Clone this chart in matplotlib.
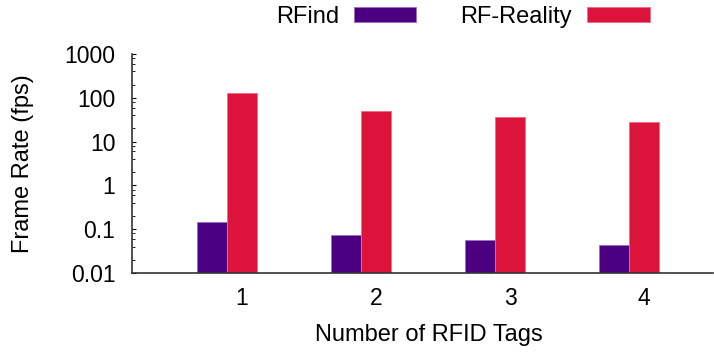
import numpy as np
import matplotlib
matplotlib.use("Agg")
import matplotlib.pyplot as plt
from matplotlib.ticker import FixedLocator, LogLocator, NullFormatter

plt.rcParams['font.family'] = ['Liberation Sans', 'DejaVu Sans']

# datos
tags = [1, 2, 3, 4]
rfind = [0.145, 0.072, 0.056, 0.043]
rf_reality = [127, 50, 36, 27.5]
ytick_vals = [0.01, 0.1, 1, 10, 100, 1000]
ytick_labels = ["0.01", "0.1", "1", "10", "100", "1000"]

fig = plt.figure(figsize=(7.14, 3.54), dpi=100)
ax = fig.add_axes([0.1849, 0.2288, 0.8137, 0.6187])

w = 0.224
x = np.array(tags, dtype=float)
ax.bar(x - w, rfind, width=w, align='edge', color='#4B0082',
       edgecolor='#9a6fc0', linewidth=0.6, label='RFind', zorder=2)
ax.bar(x, rf_reality, width=w, align='edge', color='#DC143C',
       edgecolor='#ee6a86', linewidth=0.6, label='RF-Reality', zorder=2)

ax.set_yscale('log')
ax.set_ylim(0.01, 1000)
ax.set_xlim(0.291, 4.627)
ax.yaxis.set_major_locator(FixedLocator(ytick_vals))
ax.set_yticklabels(ytick_labels)
ax.yaxis.set_minor_locator(LogLocator(base=10, subs=[2, 4, 6, 8]))
ax.yaxis.set_minor_formatter(NullFormatter())

ax.set_xticks(x + w / 2)
ax.set_xticklabels([str(t) for t in tags])

ax.spines['top'].set_visible(False)
ax.spines['right'].set_visible(False)
for s in ['left', 'bottom']:
    ax.spines[s].set_color('#333333')
    ax.spines[s].set_linewidth(1.2)
    ax.spines[s].set_zorder(3)

ax.tick_params(axis='y', which='major', direction='in', length=3, width=0.8,
               labelsize=16.5, pad=12)
ax.tick_params(axis='y', which='minor', direction='in', length=2, width=0.6)
ax.tick_params(axis='x', length=0, labelsize=16.5, pad=10)

ax.set_xlabel("Number of RFID Tags", fontsize=17)
ax.xaxis.set_label_coords(0.511, -0.232)
ax.set_ylabel("Frame Rate (fps)", fontsize=17, labelpad=22)

fig.legend(loc='center', bbox_to_anchor=(0.648, 0.952), ncol=2, frameon=False,
           markerfirst=False, fontsize=17, handlelength=2.65, handleheight=0.6,
           handletextpad=0.64, columnspacing=1.86)

fig.savefig("out.png", dpi=100)
